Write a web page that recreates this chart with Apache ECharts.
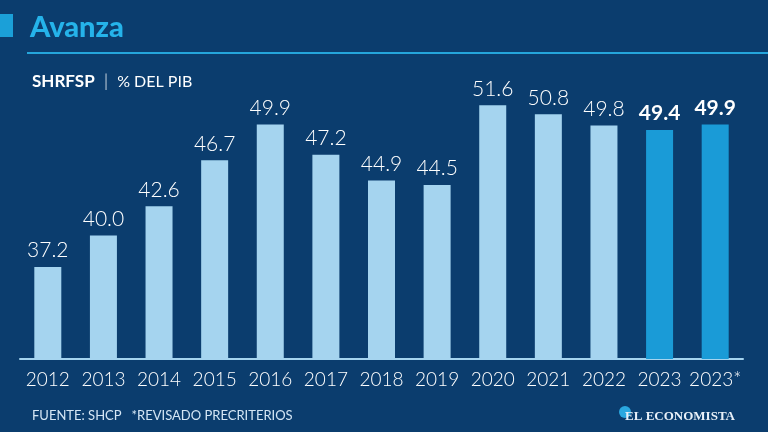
<!DOCTYPE html>
<html><head><meta charset="utf-8">
<script src="https://cdn.jsdelivr.net/npm/echarts@6/dist/echarts.min.js"></script>
<style>html,body{margin:0;padding:0;background:#0b3d6e;}#c{width:768px;height:432px;}</style>
</head><body><div id="c"></div>
<script>
const years = ['2012','2013','2014','2015','2016','2017','2018','2019','2020','2021','2022','2023','2023*'];
const values = [37.2,40.0,42.6,46.7,49.9,47.2,44.9,44.5,51.6,50.8,49.8,49.4,49.9];
const highlighted = ['2023','2023*'];

const chart = echarts.init(document.getElementById('c'));
const FONT = 'Lato, "Open Sans", sans-serif';
const data = values.map((v, i) => {
  const hi = highlighted.includes(years[i]);
  return {
    value: v,
    itemStyle: { color: hi ? '#1a9bd7' : '#a5d4ef' },
    label: hi ? { fontWeight: 'bold' } : {}
  };
});
chart.setOption({
  backgroundColor: '#0b3d6e',
  animation: false,
  title: [
    { text: 'Avanza', left: 25, top: 8, textStyle: { color: '#25b3ea', fontSize: 29, fontWeight: 900, fontFamily: FONT } },
    { text: '{b|SHRFSP}{s|  |  }{r|% DEL PIB}', left: 27, top: 68,
      textStyle: { fontWeight: 'normal', rich: {
        b: { color: '#ffffff', fontSize: 17, fontWeight: 'bold', fontFamily: FONT },
        s: { color: '#ffffff', fontSize: 17, fontWeight: 300, fontFamily: FONT },
        r: { color: '#ffffff', fontSize: 16, fontWeight: 'normal', fontFamily: FONT }
      } } },
    { text: 'FUENTE: SHCP   *REVISADO PRECRITERIOS', left: 27, top: 404, textStyle: { color: '#d4e6f5', fontSize: 13, fontWeight: 'normal', fontFamily: FONT } },
    { text: 'EL ECONOMISTA', right: 28, top: 405, textStyle: { color: '#e8f0f8', fontSize: 13, fontWeight: 'bold', fontFamily: '"Liberation Serif", "DejaVu Serif", serif' } }
  ],
  graphic: [
    { type: 'rect', shape: { x: 0, y: 14, width: 13, height: 23 }, style: { fill: '#1ba0d8' } },
    { type: 'rect', shape: { x: 27, y: 52, width: 741, height: 2 }, style: { fill: '#25a6dc' } },
    { type: 'circle', shape: { cx: 625, cy: 412, r: 6 }, style: { fill: '#2aa8e0' } }
  ],
  grid: { left: 20, right: 25, top: 11, bottom: 73 },
  xAxis: {
    type: 'category', data: years,
    axisLine: { show: true, lineStyle: { color: '#a5d4ef', width: 2 } },
    axisTick: { show: false },
    axisLabel: { color: '#ffffff', fontSize: 19, fontWeight: 300, fontFamily: FONT, margin: 11, interval: 0 }
  },
  yAxis: { type: 'value', min: 29, max: 60, show: false, splitLine: { show: false } },
  series: [{
    type: 'bar', data: data, barWidth: 27,
    label: { show: true, position: 'top', distance: 6, color: '#ffffff', fontSize: 21, fontWeight: 300, fontFamily: FONT,
      formatter: p => p.value.toFixed(1) }
  }]
});
</script></body></html>
